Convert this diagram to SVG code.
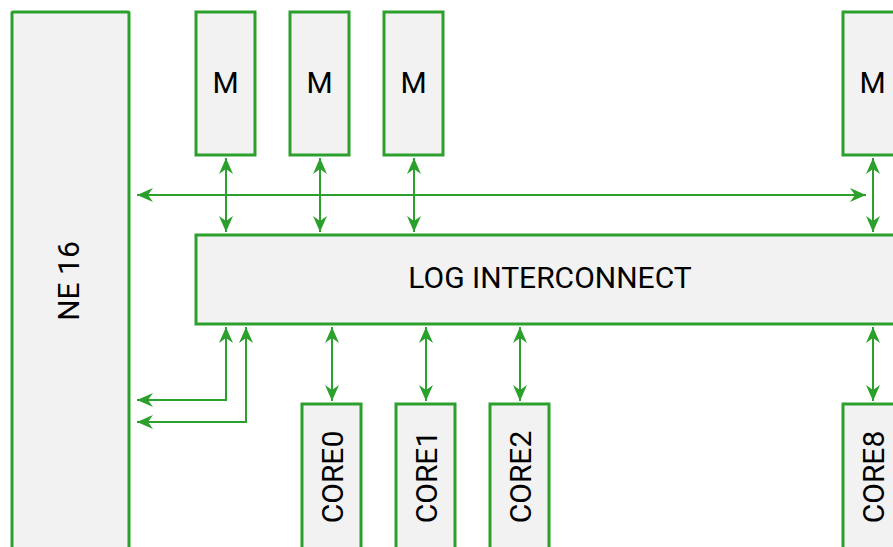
<svg xmlns="http://www.w3.org/2000/svg" width="893" height="547" viewBox="0 0 893 547">
<defs>
<style>
.box{fill:#f2f2f2;stroke:#2ca02c;stroke-width:3}
.lbl{font-family:Roboto,"Liberation Sans",sans-serif;font-size:30px;fill:#000;text-anchor:middle;dominant-baseline:central}
.c{fill:none;stroke:#2ca02c;stroke-width:2}
</style>
<marker id="ah" viewBox="0 0 16 14" refX="16" refY="7" markerWidth="16" markerHeight="14" markerUnits="userSpaceOnUse" orient="auto-start-reverse">
<path d="M0,0 L16,7 L0,14 L5,7 Z" fill="#2ca02c"/>
</marker>
</defs>
<rect width="893" height="547" fill="#fff"/>
<g id="ne16"><rect class="box" x="12" y="12" width="117" height="545" rx="1"/><text class="lbl" transform="translate(68,281) rotate(-90)">NE 16</text></g>
<g id="m1"><rect class="box" x="196" y="12" width="59" height="143"/><text class="lbl" x="225.5" y="82">M</text></g>
<g id="m2"><rect class="box" x="290" y="12" width="59" height="143"/><text class="lbl" x="319.5" y="82">M</text></g>
<g id="m3"><rect class="box" x="384" y="12" width="59" height="143"/><text class="lbl" x="413.5" y="82">M</text></g>
<g id="m4"><rect class="box" x="843" y="12" width="59" height="143"/><text class="lbl" x="872.5" y="82">M</text></g>
<g id="log"><rect class="box" x="196" y="235" width="720" height="89"/><text class="lbl" x="550" y="277">LOG INTERCONNECT</text></g>
<g id="core0"><rect class="box" x="302" y="404" width="59" height="160"/><text class="lbl" transform="translate(332,477) rotate(-90)">CORE0</text></g>
<g id="core1"><rect class="box" x="396" y="404" width="59" height="160"/><text class="lbl" transform="translate(426,477) rotate(-90)">CORE1</text></g>
<g id="core2"><rect class="box" x="490" y="404" width="59" height="160"/><text class="lbl" transform="translate(520,477) rotate(-90)">CORE2</text></g>
<g id="core8"><rect class="box" x="843" y="404" width="59" height="160"/><text class="lbl" transform="translate(873,477) rotate(-90)">CORE8</text></g>
<g id="connectors">
<line class="c" x1="137" y1="195" x2="866" y2="195" marker-start="url(#ah)" marker-end="url(#ah)"/>
<line class="c" x1="226" y1="158" x2="226" y2="232" marker-start="url(#ah)" marker-end="url(#ah)"/>
<line class="c" x1="320" y1="158" x2="320" y2="232" marker-start="url(#ah)" marker-end="url(#ah)"/>
<line class="c" x1="414" y1="158" x2="414" y2="232" marker-start="url(#ah)" marker-end="url(#ah)"/>
<line class="c" x1="873" y1="158" x2="873" y2="232" marker-start="url(#ah)" marker-end="url(#ah)"/>
<line class="c" x1="332" y1="327" x2="332" y2="401" marker-start="url(#ah)" marker-end="url(#ah)"/>
<line class="c" x1="426" y1="327" x2="426" y2="401" marker-start="url(#ah)" marker-end="url(#ah)"/>
<line class="c" x1="520" y1="327" x2="520" y2="401" marker-start="url(#ah)" marker-end="url(#ah)"/>
<line class="c" x1="873" y1="327" x2="873" y2="401" marker-start="url(#ah)" marker-end="url(#ah)"/>
<polyline class="c" points="226,327 226,400 137,400" marker-start="url(#ah)" marker-end="url(#ah)"/>
<polyline class="c" points="246,327 246,422 137,422" marker-start="url(#ah)" marker-end="url(#ah)"/>
</g>
</svg>
